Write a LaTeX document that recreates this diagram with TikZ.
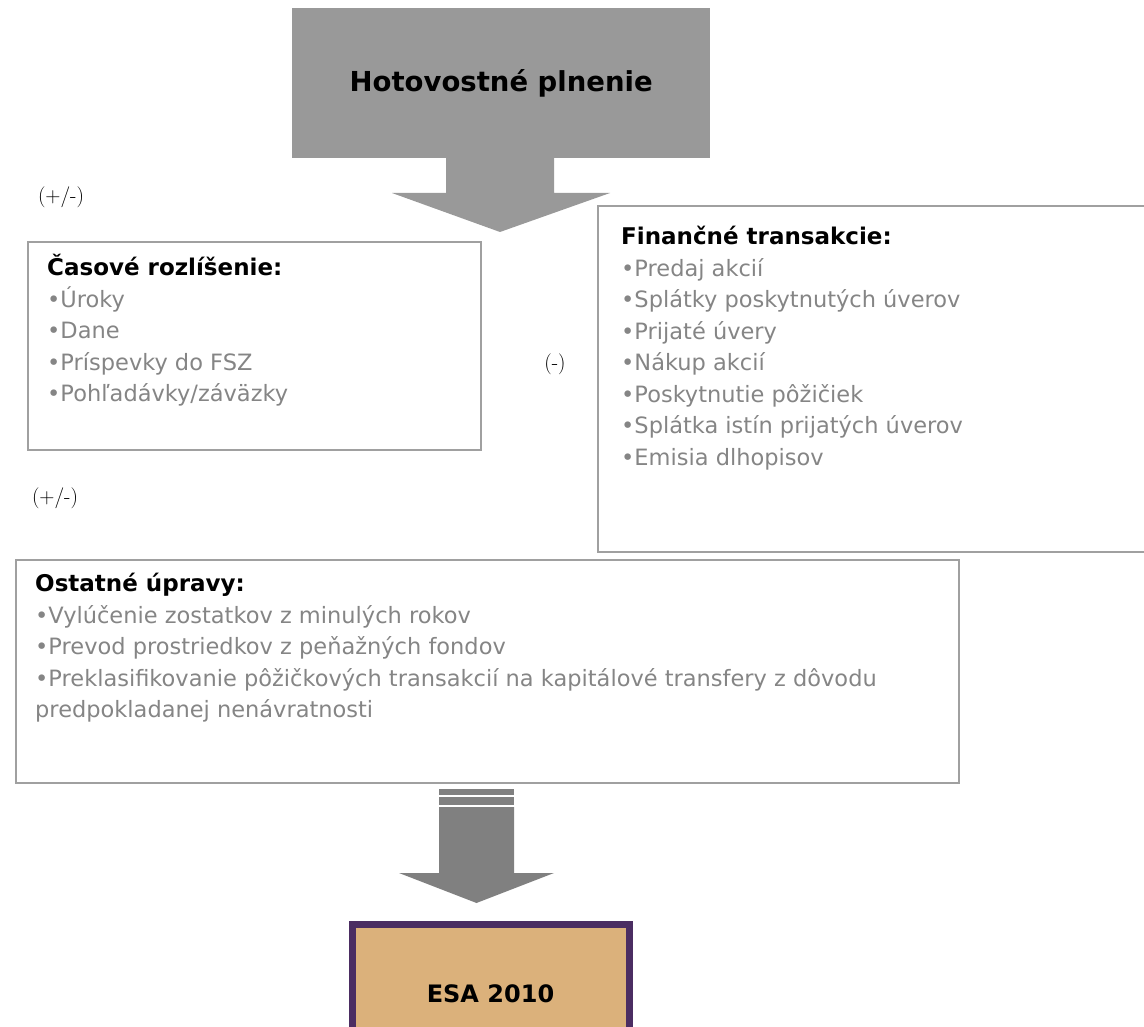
\documentclass[tikz,border=0pt]{standalone}
\usepackage{fontspec}
\setsansfont{DejaVu Sans}
\usetikzlibrary{positioning}

\definecolor{topgray}{HTML}{999999}
\definecolor{arrowgray}{HTML}{808080}
\definecolor{itemgray}{HTML}{858585}
\definecolor{framegray}{HTML}{A0A0A0}
\definecolor{esafill}{HTML}{DBB17B}
\definecolor{esaline}{HTML}{4B2D62}

\tikzset{
  listbox/.style={draw=framegray, line width=2pt, anchor=north west, inner sep=0pt},
  listtext/.style={anchor=north west, align=left, inner sep=0pt, text=itemgray,
    font=\sffamily\fontsize{22.5}{31.5}\selectfont},
  sign/.style={font=\fontsize{21}{24}\selectfont}
}
\newcommand{\listhead}[1]{{\color{black}\bfseries\fontsize{23}{31.5}\selectfont #1}}

\begin{document}
\begin{tikzpicture}[x=1pt, y=-1pt]
            \useasboundingbox (0,0) rectangle (1144,1027);
            \clip (0,0) rectangle (1144,1027);

            % cash basis on top
            \node [fill=topgray, minimum width=418pt, minimum height=150pt, anchor=north west,
                   inner sep=0pt, font=\sffamily\bfseries\fontsize{27.5}{30}\selectfont] (hot) at (292,8) {Hotovostné plnenie};
            \fill [topgray] (446,157) -- (554,157) -- (554,193) -- (610,193) -- (500,232)
                            -- (392,193) -- (446,193) -- cycle;

            % signs
            \node [sign] (sgn1) at (61,197) {(+/-)};
            \node [sign] (sgn2) at (55,498) {(+/-)};
            \node [sign, font=\fontsize{21}{24}\selectfont] (sgn3) at (555,364) {(-)};

            % accruals
            \node [listbox, minimum width=453pt, minimum height=208pt] (cas) at (27,241) {};
            \node [listtext] (castext) at ([xshift=20pt, yshift=-13pt] cas.north west)
                  {\listhead{Časové rozlíšenie:}\\•Úroky\\•Dane\\•Príspevky do FSZ\\•Pohľadávky/záväzky};

            % financial transactions
            \node [listbox, minimum width=570pt, minimum height=346pt] (fin) at (597,205) {};
            \node [listtext] (fintext) at ([xshift=24pt, yshift=-21pt] fin.north west)
                  {\listhead{Finančné transakcie:}\\•Predaj akcií\\•Splátky poskytnutých úverov\\•Prijaté úvery\\
                   •Nákup akcií\\•Poskytnutie pôžičiek\\•Splátka istín prijatých úverov\\•Emisia dlhopisov};

            % other adjustments
            \node [listbox, minimum width=943pt, minimum height=223pt] (ost) at (15,559) {};
            \node [listtext] (osttext) at ([xshift=20pt, yshift=-14pt] ost.north west)
                  {\listhead{Ostatné úpravy:}\\•Vylúčenie zostatkov z minulých rokov\\•Prevod prostriedkov z peňažných fondov\\
                   •Preklasifikovanie pôžičkových transakcií na kapitálové transfery z dôvodu\\predpokladanej nenávratnosti};

            % arrow down to ESA
            \fill [arrowgray] (439,789) rectangle (514,795);
            \fill [arrowgray] (439,797) rectangle (514,805);
            \fill [arrowgray] (439,807) -- (514,807) -- (514,873) -- (554,873) -- (476.5,903)
                              -- (399,873) -- (439,873) -- cycle;

            \node [draw=esaline, fill=esafill, line width=7pt, minimum width=277pt, minimum height=140pt,
                   anchor=north west, font=\sffamily\bfseries\fontsize{24}{28}\selectfont] (esa) at (348.5,920.5) {ESA 2010};
        \end{tikzpicture}
\end{document}
